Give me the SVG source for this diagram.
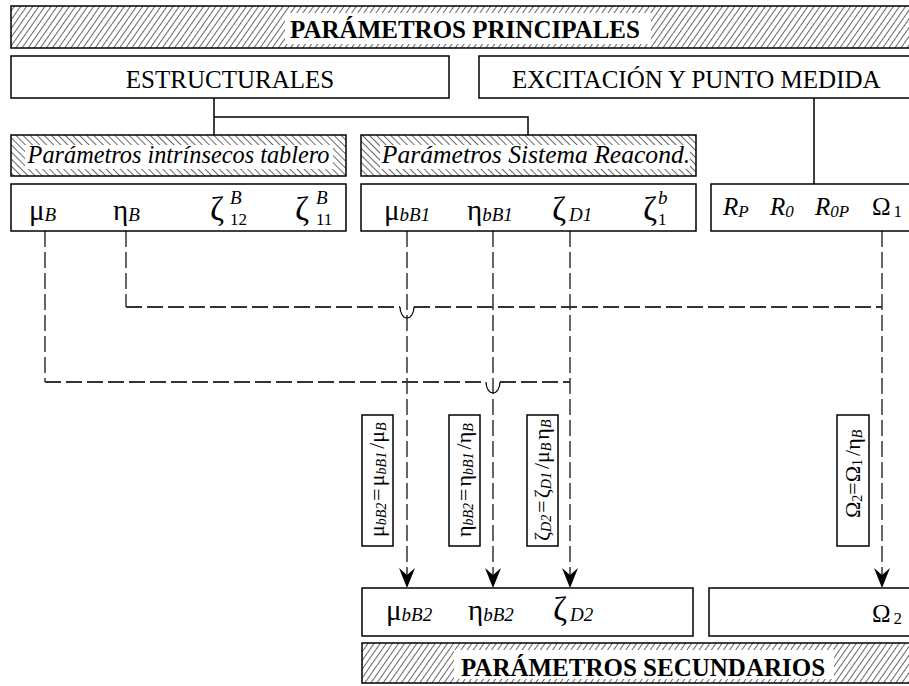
<svg xmlns="http://www.w3.org/2000/svg" width="909" height="686" viewBox="0 0 909 686">
<defs>
<pattern id="hf" width="5" height="5" patternUnits="userSpaceOnUse" patternTransform="rotate(35)">
<line x1="0" y1="-1" x2="0" y2="6" stroke="#000" stroke-width="1.2"/>
</pattern>
<pattern id="hb" width="5" height="5" patternUnits="userSpaceOnUse" patternTransform="rotate(-45)">
<line x1="0" y1="-1" x2="0" y2="6" stroke="#000" stroke-width="1.2"/>
</pattern>
<marker id="arr" viewBox="0 0 20 16" refX="20" refY="8" markerWidth="20" markerHeight="16" markerUnits="userSpaceOnUse" orient="auto">
<path d="M0,0 L20,8 L0,16 L7,8 Z" fill="#000"/>
</marker>
</defs>
<style>
.box{fill:#fff;stroke:#000;stroke-width:1.5}
.hf{fill:url(#hf);stroke:#000;stroke-width:1.5}
.hb{fill:url(#hb);stroke:#000;stroke-width:1.5}
.wb{fill:#fff;stroke:none}
text{font-family:"Liberation Serif","Times New Roman",serif;fill:#000}
.t{font-size:25px}
.bd{font-size:25px;font-weight:bold}
.it{font-style:italic}
.g{font-size:29px}
.z{font-size:34px}
.s{font-size:19px;font-style:italic}
.su{font-size:17px}
.r{font-size:25px;font-style:italic}
.rs{font-size:17px;font-style:italic}
.v{font-size:22px}
.vs{font-size:14px;font-style:italic}
.con{stroke:#000;stroke-width:1.5;fill:none}
.dv{stroke:#000;stroke-width:1.2;stroke-dasharray:16 5;fill:none}
.dh{stroke:#333;stroke-width:2;stroke-dasharray:16 5;fill:none}
.bump{stroke:#000;stroke-width:1.2;fill:none}
</style>

<g id="connectors">
<path class="con" d="M214,98 V135 M214,117 H528 V135 M814,98 V184"/>
<path class="dv" d="M45,231 V382"/>
<path class="dv" d="M126,231 V307"/>
<path class="dv" d="M407,231 V588" marker-end="url(#arr)"/>
<path class="dv" d="M493,231 V588" marker-end="url(#arr)"/>
<path class="dv" d="M570,231 V588" marker-end="url(#arr)"/>
<path class="dv" d="M882,231 V588" marker-end="url(#arr)"/>
<path class="dh" d="M126,307 H400 M414,307 H882"/>
<path class="bump" d="M400,307 A7,11 0 0 0 414,307"/>
<path class="dh" d="M45,382 H486 M500,382 H570"/>
<path class="bump" d="M486,382 A7,11 0 0 0 500,382"/>
</g>

<g id="header-principales">
<rect class="hf" x="11" y="6" width="910" height="42"/>
<rect class="wb" x="285" y="13" width="366" height="31"/>
<text class="bd" x="465" y="38" text-anchor="middle">PARÁMETROS PRINCIPALES</text>
</g>

<g id="estructurales">
<rect class="box" x="11" y="56" width="438" height="42"/>
<text class="t" x="230" y="88" text-anchor="middle">ESTRUCTURALES</text>
</g>

<g id="excitacion">
<rect class="box" x="479" y="56" width="442" height="42"/>
<text class="t" x="512" y="88">EXCITACIÓN Y PUNTO MEDIDA</text>
</g>

<g id="intrinsecos">
<rect class="hb" x="11" y="135" width="335" height="41"/>
<rect class="wb" x="25" y="145" width="308" height="24"/>
<text class="it" style="font-size:24.3px" x="178.5" y="163" text-anchor="middle">Parámetros intrínsecos tablero</text>
</g>

<g id="reacond">
<rect class="hb" x="361" y="135" width="335" height="41"/>
<rect class="wb" x="380" y="145" width="310" height="24"/>
<text class="it" style="font-size:25.6px" x="536" y="163" text-anchor="middle">Parámetros Sistema Reacond.</text>
</g>

<g id="datos-tablero">
<rect class="box" x="11" y="184" width="335" height="47"/>
<text class="g" x="29" y="220">μ<tspan class="s" dy="1">B</tspan></text>
<text class="g" x="113" y="220">η<tspan class="s" dy="1">B</tspan></text>
<text class="z" x="210" y="220">ζ</text>
<text class="s" x="230" y="204">B</text>
<text class="su" x="230" y="225">12</text>
<text class="z" x="295" y="220">ζ</text>
<text class="s" x="316" y="204">B</text>
<text class="su" x="316" y="225">11</text>
</g>

<g id="datos-reacond">
<rect class="box" x="361" y="184" width="335" height="47"/>
<text class="g" x="384" y="220">μ<tspan class="s" dy="1">bB1</tspan></text>
<text class="g" x="467" y="220">η<tspan class="s" dy="1">bB1</tspan></text>
<text class="z" x="552" y="220">ζ<tspan class="s" dx="3" dy="1">D1</tspan></text>
<text class="z" x="643" y="220">ζ</text>
<text class="s" x="658" y="204">b</text>
<text class="su" x="658" y="225">1</text>
</g>

<g id="datos-excitacion">
<rect class="box" x="711" y="184" width="210" height="47"/>
<text class="r" x="723" y="215">R<tspan class="rs" dy="2">P</tspan></text>
<text class="r" x="770" y="215">R<tspan class="rs" dy="2">0</tspan></text>
<text class="r" x="815" y="215">R<tspan class="rs" dy="2">0P</tspan></text>
<text class="t" x="872" y="215">Ω<tspan style="font-size:17px" dx="3" dy="2">1</tspan></text>
</g>

<g id="rel-mu">
<rect class="box" x="362" y="415" width="31" height="131"/>
<text class="v" transform="translate(384,537) rotate(-90)">μ<tspan class="vs" dy="2">bB2</tspan><tspan dx="2" dy="-2">=</tspan><tspan dx="2">μ</tspan><tspan class="vs" dy="2">bB1</tspan><tspan dx="3" dy="-2">/μ</tspan><tspan class="vs" dy="2">B</tspan></text>
</g>

<g id="rel-eta">
<rect class="box" x="449" y="415" width="31" height="131"/>
<text class="v" transform="translate(471,537) rotate(-90)">η<tspan class="vs" dy="2">bB2</tspan><tspan dx="2" dy="-2">=</tspan><tspan dx="2">η</tspan><tspan class="vs" dy="2">bB1</tspan><tspan dx="3" dy="-2">/η</tspan><tspan class="vs" dy="2">B</tspan></text>
</g>

<g id="rel-zeta">
<rect class="box" x="527" y="415" width="31" height="131"/>
<text class="v" transform="translate(549,541) rotate(-90)">ζ<tspan class="vs" dy="2">D2</tspan><tspan dx="2" dy="-2">=</tspan><tspan dx="2">ζ</tspan><tspan class="vs" dy="2">D1</tspan><tspan dx="3" dy="-2">/μ</tspan><tspan class="vs" dy="2">B</tspan><tspan dx="3" dy="-2">η</tspan><tspan class="vs" dy="2">B</tspan></text>
</g>

<g id="rel-omega">
<rect class="box" x="837" y="415" width="32" height="131"/>
<text class="v" transform="translate(860,518) rotate(-90)">Ω<tspan class="vs" style="font-style:normal" dy="2">2</tspan><tspan dy="-2">=Ω</tspan><tspan class="vs" style="font-style:normal" dy="2">1</tspan><tspan dx="3" dy="-2">/η</tspan><tspan class="vs" dy="2">B</tspan></text>
</g>

<g id="secundarios-1">
<rect class="box" x="362" y="588" width="331" height="48"/>
<text class="g" x="386" y="620">μ<tspan class="s" dy="1">bB2</tspan></text>
<text class="g" x="468" y="620">η<tspan class="s" dy="1">bB2</tspan></text>
<text class="z" x="553" y="620">ζ<tspan class="s" dx="3" dy="1">D2</tspan></text>
</g>

<g id="secundarios-2">
<rect class="box" x="709" y="588" width="212" height="48"/>
<text class="t" x="872" y="622">Ω<tspan style="font-size:17px" dx="3" dy="2">2</tspan></text>
</g>

<g id="header-secundarios">
<rect class="hf" x="362" y="643" width="560" height="40"/>
<rect class="wb" x="454" y="650" width="380" height="29"/>
<text class="bd" x="643" y="676" text-anchor="middle">PARÁMETROS SECUNDARIOS</text>
</g>
</svg>
